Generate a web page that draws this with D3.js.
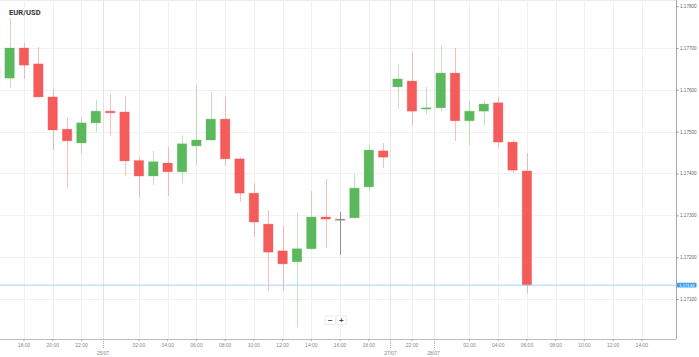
<!DOCTYPE html>
<html>
<head>
<meta charset="utf-8">
<script src="https://cdn.jsdelivr.net/npm/d3@7"></script>
<style>
  html, body { margin: 0; padding: 0; background: #fff; }
  svg { display: block; }
  text { font-family: "Liberation Sans", Arial, sans-serif; }
</style>
</head>
<body>
<div id="chart"></div>
<script>
// ---- data ----
const times = ["16:00","17:00","18:00","19:00","20:00","21:00","22:00","23:00",
  "00:00","01:00","02:00","03:00","04:00","05:00","06:00","07:00","08:00","09:00","10:00","11:00",
  "12:00","13:00","14:00","15:00","16:00","17:00","18:00","19:00",
  "21:00","22:00","23:00",
  "00:00","01:00","02:00","03:00","04:00","05:00","06:00",
  "07:00","08:00","09:00","10:00","11:00","12:00","13:00","14:00","15:00","16:00"];
const days = ["24/07","24/07","24/07","24/07","24/07","24/07","24/07","24/07",
  "25/07","25/07","25/07","25/07","25/07","25/07","25/07","25/07","25/07","25/07","25/07","25/07",
  "25/07","25/07","25/07","25/07","25/07","25/07","25/07","25/07",
  "27/07","27/07","27/07",
  "28/07","28/07","28/07","28/07","28/07","28/07","28/07",
  "28/07","28/07","28/07","28/07","28/07","28/07","28/07","28/07","28/07","28/07"];
const open  = [1.17650,1.17628,1.17700,1.17662,1.17583,1.17506,1.17473,1.17521,1.17549,1.17547,
  1.17431,1.17394,1.17425,1.17404,1.17466,1.17480,1.17530,1.17435,1.17353,1.17279,
  1.17215,1.17189,1.17220,1.17296,1.17291,1.17294,1.17368,1.17454,1.17607,1.17621,
  1.17554,1.17557,1.17640,1.17526,1.17549,1.17569,1.17475,1.17406];
const high  = [1.17660,1.17772,1.17712,1.17702,1.17602,1.17533,1.17533,1.17576,1.17590,1.17585,
  1.17439,1.17454,1.17463,1.17492,1.17612,1.17595,1.17583,1.17439,1.17377,1.17313,
  1.17275,1.17306,1.17358,1.17387,1.17308,1.17399,1.17468,1.17473,1.17662,1.17690,
  1.17607,1.17705,1.17700,1.17573,1.17573,1.17583,1.17480,1.17449];
const low   = [1.17618,1.17604,1.17626,1.17582,1.17456,1.17365,1.17447,1.17499,1.17490,1.17396,
  1.17342,1.17373,1.17346,1.17377,1.17420,1.17479,1.17418,1.17332,1.17248,1.17119,
  1.17119,1.17033,1.17219,1.17222,1.17205,1.17293,1.17358,1.17413,1.17554,1.17514,
  1.17542,1.17549,1.17478,1.17468,1.17514,1.17461,1.17401,1.17114];
const close = [1.17626,1.17700,1.17659,1.17583,1.17504,1.17478,1.17521,1.17549,1.17545,1.17430,
  1.17394,1.17428,1.17404,1.17471,1.17480,1.17530,1.17435,1.17353,1.17284,1.17212,
  1.17184,1.17220,1.17296,1.17291,1.17291,1.17365,1.17456,1.17439,1.17626,1.17549,
  1.17557,1.17640,1.17526,1.17549,1.17566,1.17475,1.17408,1.17133];
const priceTicks = [1.171,1.172,1.173,1.174,1.175,1.176,1.177,1.178];
const currentPrice = 1.17133;
const title = "EUR/USD";

// ---- layout ----
const W = 699, H = 357;
const plotR = 676, plotB = 339;
const step = 14.37;
const x0 = -11.97;

const svg = d3.select("#chart").append("svg").attr("width", W).attr("height", H);

const idx = d3.range(times.length);
const x = d3.scaleBand().domain(idx).range([x0, x0 + step * times.length])
  .paddingInner(0.34).paddingOuter(0.17);
const y = d3.scaleLinear().domain([1.170, 1.178]).range([340.8, 6.17]);
const cx = i => x(i) + x.bandwidth() / 2;
const boundary = i => x(i) - x.step() * x.paddingInner() / 2;

const shownTicks = idx.filter(i => {
  const h = +times[i].slice(0, 2);
  return h % 2 === 0 && h !== 0 && cx(i) > 10 && cx(i) < 660;
});
const dayStarts = idx.filter(i => i > 0 && days[i] !== days[i - 1]);

// clip
svg.append("defs").append("clipPath").attr("id", "plot")
  .append("rect").attr("x", 0).attr("y", 0).attr("width", plotR).attr("height", plotB);

// grid
const grid = svg.append("g");
grid.append("line").attr("x1", 0).attr("x2", plotR).attr("y1", 0.5).attr("y2", 0.5)
  .attr("stroke", "#ececec");
grid.selectAll(".hg").data(priceTicks.filter(v => v < 1.1775)).enter().append("line")
  .attr("x1", 0).attr("x2", plotR)
  .attr("y1", d => Math.round(y(d)) + 0.5).attr("y2", d => Math.round(y(d)) + 0.5)
  .attr("stroke", "#f1f1f1");
grid.selectAll(".vg").data(shownTicks).enter().append("line")
  .attr("x1", d => Math.round(cx(d)) + 0.5).attr("x2", d => Math.round(cx(d)) + 0.5)
  .attr("y1", 0).attr("y2", plotB)
  .attr("stroke", "#f1f1f1");
grid.selectAll(".dg").data(dayStarts).enter().append("line")
  .attr("x1", d => Math.round(boundary(d)) + 0.5).attr("x2", d => Math.round(boundary(d)) + 0.5)
  .attr("y1", 0).attr("y2", plotB)
  .attr("stroke", "#e4e4e4");

// candles
const candles = d3.range(open.length).map(i => ({
  i, o: open[i], h: high[i], l: low[i], c: close[i]
}));
const colorOf = d => d.c > d.o ? "#5cb85c" : (d.c < d.o ? "#f45b5b" : "#8a8a8a");

const cg = svg.append("g").attr("clip-path", "url(#plot)");
cg.selectAll(".wick").data(candles).enter().append("line")
  .attr("x1", d => Math.round(cx(d.i)) + 0.5).attr("x2", d => Math.round(cx(d.i)) + 0.5)
  .attr("y1", d => y(d.h)).attr("y2", d => y(d.l))
  .attr("stroke", colorOf)
  .attr("stroke-opacity", d => d.c === d.o ? 0.95 : 0.4)
  .attr("stroke-width", 1);
cg.selectAll(".body").data(candles).enter().append("rect")
  .attr("x", d => x(d.i))
  .attr("width", x.bandwidth())
  .attr("y", d => y(Math.max(d.o, d.c)))
  .attr("height", d => Math.max(1.2, Math.abs(y(d.o) - y(d.c))))
  .attr("fill", colorOf)
  .attr("stroke", colorOf).attr("stroke-opacity", 0.35).attr("stroke-width", 0.8);

// current price line
svg.append("line").attr("x1", 0).attr("x2", plotR)
  .attr("y1", y(currentPrice)).attr("y2", y(currentPrice))
  .attr("stroke", "#a6d4f7").attr("stroke-width", 1);

// right axis
const yAxis = svg.append("g").attr("transform", `translate(${plotR + 0.5},0)`)
  .call(d3.axisRight(y).tickValues(priceTicks).tickFormat(d3.format(".5f")).tickSize(2).tickPadding(1.5));
yAxis.select(".domain").attr("stroke", "#a8a8a8").attr("d", `M0,0V${plotB}`);
yAxis.selectAll(".tick line").attr("stroke", "#999");
yAxis.selectAll(".tick text").attr("fill", "#666").style("font-size", "4.6px")
  .style("font-family", '"Liberation Sans", Arial, sans-serif');

// current price label
const pl = svg.append("g").attr("transform", `translate(677,${y(currentPrice)})`);
pl.append("rect").attr("x", 0).attr("y", -2.4).attr("width", 19.5).attr("height", 4.8)
  .attr("rx", 0.8).attr("fill", "#3ea0ee");
pl.append("text").attr("x", 9.75).attr("y", 0).attr("dy", "0.35em").attr("text-anchor", "middle")
  .attr("fill", "#fff").style("font-size", "4.2px").text(d3.format(".5f")(currentPrice));

// bottom axis
const xAxis = svg.append("g").attr("transform", `translate(0,${plotB})`)
  .call(d3.axisBottom(x).tickValues(shownTicks).tickFormat(i => times[i]).tickSize(2).tickPadding(2.5));
xAxis.select(".domain").attr("stroke", "#bdbdbd").attr("d", `M0,0.5H${plotR}`);
xAxis.selectAll(".tick line").attr("stroke", "#aaa");
xAxis.selectAll(".tick text").attr("fill", "#888").style("font-size", "5px")
  .style("font-family", '"Liberation Sans", Arial, sans-serif');

// day separators on axis
const dg = svg.append("g");
dg.selectAll("line").data(dayStarts).enter().append("line")
  .attr("x1", d => Math.round(boundary(d)) + 0.5).attr("x2", d => Math.round(boundary(d)) + 0.5)
  .attr("y1", plotB).attr("y2", plotB + 10)
  .attr("stroke", "#aaa").attr("stroke-dasharray", "1,1");
dg.selectAll("text").data(dayStarts).enter().append("text")
  .attr("x", d => boundary(d)).attr("y", 355)
  .attr("text-anchor", "middle").attr("fill", "#888").style("font-size", "5px")
  .text(d => days[d]);

// title
svg.append("text").attr("x", 9).attr("y", 14.5).attr("fill", "#333")
  .style("font-size", "7.6px").style("font-weight", "bold")
  .style("font-family", 'Roboto, "Liberation Sans", Arial, sans-serif')
  .text(title);

// zoom buttons
const zb = svg.append("g").attr("transform", "translate(325,316)");
const btns = ["−", "+"];
zb.selectAll("rect").data(btns).enter().append("rect")
  .attr("x", (d, i) => i * 11).attr("y", 0).attr("width", 10.5).attr("height", 8.5)
  .attr("rx", 1).attr("fill", "#fff").attr("stroke", "#e6e6e6").attr("stroke-width", 0.8);
zb.selectAll("text").data(btns).enter().append("text")
  .attr("x", (d, i) => i * 11 + 5.25).attr("y", 4.4).attr("dy", "0.35em")
  .attr("text-anchor", "middle").attr("fill", "#444")
  .style("font-size", "8px").style("font-weight", "bold").text(d => d);
</script>
</body>
</html>
